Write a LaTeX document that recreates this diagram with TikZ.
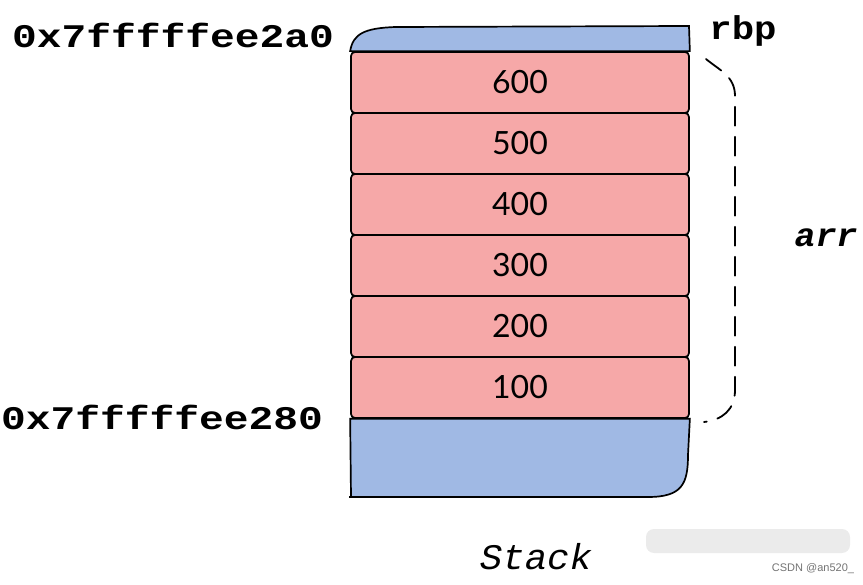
\documentclass[tikz,border=0pt]{standalone}
\usepackage{fontspec}
\usepackage{graphicx}
\setmainfont{Lato}
\newfontfamily\stackmono{Liberation Mono}
\newfontfamily\markfont{Liberation Sans}
\definecolor{stackblue}{HTML}{A0B9E4}
\definecolor{stackred}{HTML}{F6A8A8}
\tikzset{
  stack cell/.style={
    draw=black,fill=stackred,line width=1.7pt,rounded corners=4pt,
    minimum width=338pt,minimum height=61pt,inner sep=0pt,
    font=\fontsize{32}{36}\selectfont
  },
  stack cap/.style={draw=black,fill=stackblue,line width=1.7pt},
  stack brace/.style={black,line width=1.8pt,dash pattern=on 19pt off 11pt,line cap=round},
  addr label/.style={font=\fontsize{33}{37}\selectfont\stackmono\bfseries,inner sep=0pt}
}
\newcommand{\widen}[2]{\scalebox{#1}[1]{#2}}

\begin{document}
\begin{tikzpicture}[x=1pt,y=-1pt]
  \useasboundingbox (0,0) rectangle (863,585);

  % array cells, 100 at the bottom
  \foreach \v [count=\i] in {100,200,300,400,500,600}
    \node[stack cell] (c\i) at (520,{387.5-(\i-1)*61}) {\v};

  % blue frame above and below the array
  \draw[stack cap,rounded corners=0pt] (c6.north west)
    .. controls (353,34) and (364,28) .. (396,27) -- (689,26) -- (c6.north east) -- cycle;
  \draw[stack cap,rounded corners=0pt] (c1.south west) -- (351,497) -- (648,497)
    .. controls (682,497) and (688,484) .. (688,455) -- (c1.south east) -- cycle;
  \draw[line width=1.7pt] (349,497) -- (354,497);

  % dashed brace for arr
  \draw[stack brace] (706,59) .. controls (719,70) and (735,76) .. (735,96)
    -- (735,390) .. controls (735,410) and (722,420) .. (704,422);

  \node[addr label] (top) at (173,35) {\widen{1.25}{0x7fffffee2a0}};
  \node[addr label] (bot) at (162,417) {\widen{1.25}{0x7fffffee280}};
  \node[addr label] (rbp) at (743,31) {\widen{1.13}{rbp}};
  \node[addr label,font=\fontsize{33}{37}\selectfont\stackmono\bfseries\itshape] (arr) at (826,238) {\widen{1.06}{arr}};
  \node[font=\fontsize{36}{40}\selectfont\stackmono\itshape,inner sep=0pt] (stack) at (536,557) {\widen{1.04}{Stack}};

  % watermark
  \fill[black!8,rounded corners=8pt] (646,529) rectangle (850,553);
  \node[font=\fontsize{11}{13}\selectfont\markfont,text=black!55,inner sep=0pt] (mark) at (813,569) {CSDN @an520\_};
\end{tikzpicture}
\end{document}
